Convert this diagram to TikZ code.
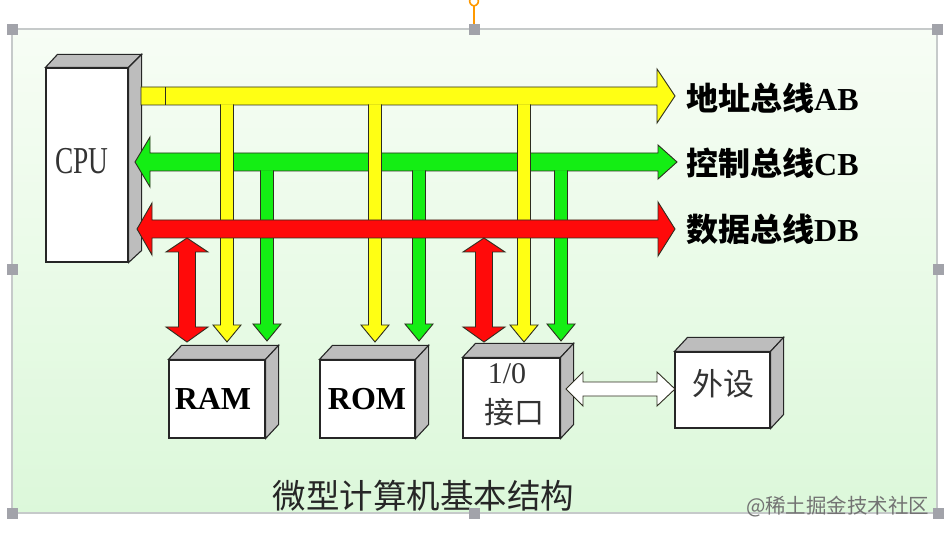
\documentclass[tikz,border=0pt]{standalone}
\usepackage{fontspec}
\usepackage{graphicx}
\setmainfont{Liberation Serif}
\newfontfamily\cjk{Noto Sans CJK SC}
\usetikzlibrary{calc}
\definecolor{busY}{HTML}{FFFF14}
\definecolor{busG}{HTML}{14EE14}
\definecolor{busR}{HTML}{FF0A0A}
\definecolor{faceG}{HTML}{BDBDBD}
\definecolor{edgeC}{HTML}{2E2E20}
\definecolor{frameC}{HTML}{C6CACA}
\definecolor{handleC}{HTML}{A2A3AA}
\definecolor{bgTop}{HTML}{F7FDF5}
\definecolor{bgBot}{HTML}{DCF8DA}
\definecolor{txtG}{HTML}{333333}
\newcommand\myfaces[1]{%
  \filldraw[face] (#1.north west) -- ++(13,-14) -- ($(#1.north east)+(13,-14)$) -- (#1.north east) -- cycle;
  \filldraw[face] (#1.north east) -- ++(13,-14) -- ($(#1.south east)+(13,-14)$) -- (#1.south east) -- cycle;}
\newcommand\mydown[4]{%
  \filldraw[bus, fill=#1] (#2-6.5,#3) -- (#2-6.5,#4-17) -- (#2-14,#4-17) -- (#2,#4) -- (#2+14,#4-17) -- (#2+6.5,#4-17) -- (#2+6.5,#3);}
\newcommand\myredtwo[1]{%
  \filldraw[bus, fill=busR] (#1,238) -- (#1+21,252) -- (#1+8.5,252) -- (#1+8.5,327) -- (#1+21,327) -- (#1,342)
     -- (#1-21,327) -- (#1-8.5,327) -- (#1-8.5,252) -- (#1-21,252) -- cycle;}
\begin{document}
\begin{tikzpicture}[x=1pt,y=-1pt,line join=miter,
  bus/.style={draw=edgeC,line width=0.9pt},
  face/.style={draw=black!85,fill=faceG,line width=1.1pt},
  cubenode/.style={draw=black!85,fill=white,line width=1.1pt,inner sep=0pt,rectangle},
  lbl/.style={anchor=west,inner sep=0pt,font=\fontsize{32}{32}\selectfont\bfseries},
  handle/.style={fill=handleC,minimum size=11pt,inner sep=0pt,rectangle}]
\useasboundingbox (0,0) rectangle (950,534);
\fill[white] (0,0) rectangle (950,534);
\shade[top color=bgTop,bottom color=bgBot] (12,29) rectangle (937,513);

% CPU
\node[cubenode,minimum width=82pt,minimum height=194pt] (cpu) at (87,165) {};
\filldraw[face] (cpu.north west) -- ++(12,-13) -- ($(cpu.north east)+(13,-13)$) -- (cpu.north east) -- cycle;
\filldraw[face] (cpu.north east) -- ++(13,-13) -- ($(cpu.south east)+(13,-12)$) -- (cpu.south east) -- cycle;
\node[text=txtG,font=\fontsize{38}{38}\selectfont] (cputxt) at (82,161) {\scalebox{0.72}[1]{CPU}};

% address bus
\filldraw[bus,fill=busY] (141,87) -- (657,87) -- (657,69) -- (675,96) -- (657,123) -- (657,105) -- (141,105) -- cycle;
\draw[bus] (165,87) -- (165,105);
% control bus
\filldraw[bus,fill=busG] (150,153) -- (658,153) -- (658,145) -- (677,162) -- (658,179) -- (658,171) -- (150,171) -- (150,187) -- (135,162) -- (150,137) -- cycle;
% yellow drops
\mydown{busY}{227}{104.5}{342}
\mydown{busY}{375}{104.5}{342}
\mydown{busY}{524}{104.5}{342}
% green drops
\mydown{busG}{267}{170.5}{341}
\mydown{busG}{419}{170.5}{341}
\mydown{busG}{561}{170.5}{341}
% data bus
\filldraw[bus,fill=busR] (152,220) -- (658,220) -- (658,202) -- (675,229) -- (658,256) -- (658,238) -- (152,238) -- (152,255) -- (137,229) -- (152,203) -- cycle;
\myredtwo{187}
\myredtwo{484}

% modules
\node[cubenode,minimum width=96pt,minimum height=78pt] (ram) at (217,399) {};
\myfaces{ram}
\node[font=\fontsize{32}{32}\selectfont\bfseries] (ramtxt) at (213,399) {RAM};
\node[cubenode,minimum width=95pt,minimum height=78pt] (rom) at (367.5,399) {};
\myfaces{rom}
\node[font=\fontsize{32}{32}\selectfont\bfseries] (romtxt) at (367,399) {ROM};
\node[cubenode,minimum width=97pt,minimum height=80pt] (io) at (511.5,398) {};
\myfaces{io}
\node[text=txtG,font=\fontsize{30}{30}\selectfont] (iotxt1) at (507,374) {1/0};
\node[text=txtG,font=\fontsize{30}{30}\selectfont\cjk] (iotxt2) at (514,412) {接口};
\node[cubenode,minimum width=95pt,minimum height=76pt] (dev) at (722.5,390) {};
\myfaces{dev}
\node[text=txtG,font=\fontsize{31}{31}\selectfont\cjk] (devtxt) at (723,384) {外设};

% white double arrow
\filldraw[bus,fill=white] (566,389) -- (583,372) -- (583,382) -- (657,382) -- (657,372) -- (675,389)
  -- (657,406) -- (657,396) -- (583,396) -- (583,406) -- cycle;

% labels
\node[lbl] (ab) at (686,98) {{\cjk 地址总线}AB};
\node[lbl] (cb) at (686,163) {{\cjk 控制总线}CB};
\node[lbl] (db) at (686,229) {{\cjk 数据总线}DB};
\node[text=black!85,font=\fontsize{33.5}{33.5}\selectfont\cjk] (cap) at (423.5,496) {微型计算机基本结构};

% frame and handles
\draw[frameC,line width=1.5pt] (12,29) rectangle (937,513);
\draw[orange!80!yellow,line width=1.6pt] (474,24) -- (474,6) .. controls (470,5) and (469,2) .. (470,-1);
\draw[orange!80!yellow,line width=1.6pt] (474,6) .. controls (478,5) and (479,2) .. (478,-1);
\foreach \hx/\hy [count=\i] in {12/30,474/30,937/30,12/270,938/270,12/513,474/513,938/513}
  \node[handle] (h\i) at (\hx,\hy) {};
\node[text=black!55,font=\fontsize{20.5}{20.5}\selectfont\cjk,anchor=east] (wm) at (933,507) {@稀土掘金技术社区};
\end{tikzpicture}
\end{document}
